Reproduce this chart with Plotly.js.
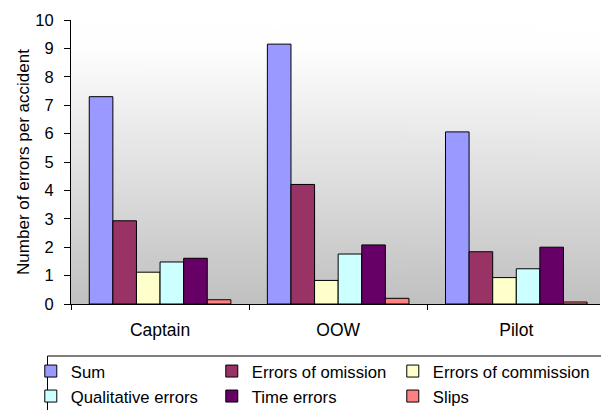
<!DOCTYPE html>
<html>
<head>
<meta charset="utf-8">
<script src="https://cdn.plot.ly/plotly-3.0.1.min.js"></script>
<style>
  html, body { margin: 0; padding: 0; background: #ffffff; overflow: hidden; }
  #chart { width: 601px; height: 410px; }
</style>
</head>
<body>
<div id="chart"></div>
<script>
// Crew roles on the x axis
const roles = ['Captain', 'OOW', 'Pilot'];

// Mean number of errors per accident, by error type
const sumErrors         = [7.30, 9.15, 6.06];
const omissionErrors    = [2.93, 4.21, 1.84];
const commissionErrors  = [1.12, 0.83, 0.93];
const qualitativeErrors = [1.48, 1.76, 1.24];
const timeErrors        = [1.61, 2.08, 2.00];
const slipErrors        = [0.15, 0.20, 0.07];

const seriesNames = ['Sum', 'Errors of omission', 'Errors of commission',
                     'Qualitative errors', 'Time errors', 'Slips'];
const seriesValues = [sumErrors, omissionErrors, commissionErrors,
                      qualitativeErrors, timeErrors, slipErrors];
const seriesColors = ['#9999FF', '#993366', '#FFFFCC', '#CCFFFF', '#660066', '#FF8080'];

const yTicks = [0, 1, 2, 3, 4, 5, 6, 7, 8, 9, 10];

// Legend is laid out in two rows of three entries; the last column is wider
const traces = seriesNames.map((name, i) => ({
  type: 'bar',
  name: name,
  x: roles,
  y: seriesValues[i],
  legend: i < 3 ? 'legend' : 'legend2',
  legendwidth: (i % 3 === 2) ? 165 : 136,
  marker: { color: seriesColors[i], line: { color: '#000000', width: 1 } },
  hoverinfo: 'x+y+name'
}));

// Vertical white-to-grey fill for the plotting area
function gradientImage() {
  const c = document.createElement('canvas');
  c.width = 4; c.height = 256;
  const ctx = c.getContext('2d');
  const g = ctx.createLinearGradient(0, 0, 0, 256);
  g.addColorStop(0, '#ffffff');
  g.addColorStop(0.1, '#fefefe');
  g.addColorStop(1, '#c0c0c0');
  ctx.fillStyle = g;
  ctx.fillRect(0, 0, 4, 256);
  return c.toDataURL('image/png');
}

const family = 'Liberation Sans, Arial, sans-serif';
const font = { family: family, size: 17, color: '#000000' };

const legendCommon = {
  orientation: 'h',
  x: -0.076,
  xanchor: 'left',
  yanchor: 'top',
  bgcolor: 'rgba(0,0,0,0)',
  borderwidth: 0,
  traceorder: 'normal',
  font: { family: family, size: 16.7, color: '#000000' }
};

const layout = {
  width: 601,
  height: 410,
  margin: { l: 71, r: 1, t: 20, b: 106, autoexpand: false },
  paper_bgcolor: '#ffffff',
  plot_bgcolor: 'rgba(0,0,0,0)',
  font: font,
  barmode: 'group',
  bargap: 0.205,
  bargroupgap: 0,
  showlegend: true,
  images: [{
    source: gradientImage(),
    xref: 'paper', yref: 'paper',
    x: 0, y: 1, sizex: 1, sizey: 1,
    xanchor: 'left', yanchor: 'top',
    sizing: 'stretch',
    layer: 'below'
  }],
  // frame around the legend block
  shapes: [{
    type: 'rect',
    xref: 'paper', yref: 'paper',
    x0: -0.0444, x1: 1.02,
    y0: -0.1831, y1: -0.40,
    line: { color: '#000000', width: 1 },
    fillcolor: '#ffffff',
    layer: 'below'
  }],
  xaxis: {
    type: 'category',
    range: [-0.5, 2.47],
    showgrid: false,
    zeroline: false,
    showline: true,
    linecolor: '#000000',
    linewidth: 1,
    ticks: 'outside',
    tickson: 'boundaries',
    ticklen: 5,
    tickcolor: '#000000',
    ticklabelstandoff: 10,
    tickfont: { family: family, size: 17.5, color: '#000000' },
    fixedrange: true
  },
  yaxis: {
    range: [0, 10],
    tickvals: yTicks,
    ticktext: yTicks.map(String),
    showgrid: false,
    zeroline: false,
    showline: true,
    linecolor: '#000000',
    linewidth: 1,
    ticks: 'outside',
    ticklen: 6,
    tickcolor: '#000000',
    ticklabelstandoff: 7,
    tickfont: { family: family, size: 16.5, color: '#000000' },
    title: { text: 'Number of errors per accident', font: { family: family, size: 17, color: '#000000' }, standoff: 1 },
    fixedrange: true
  },
  legend: Object.assign({}, legendCommon, { y: -0.175 }),
  legend2: Object.assign({}, legendCommon, { y: -0.263 })
};

Plotly.newPlot('chart', traces, layout, { displayModeBar: false, staticPlot: true });
</script>
</body>
</html>
